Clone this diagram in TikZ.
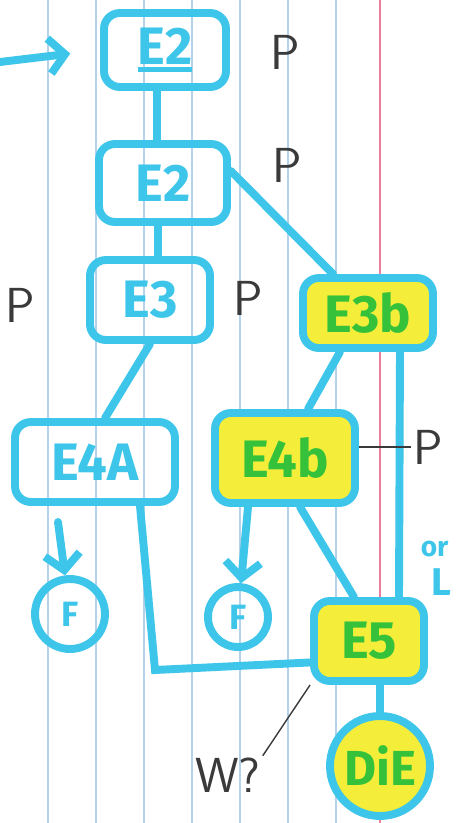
\documentclass[tikz,border=0pt]{standalone}
\usepackage{fontspec}
\newfontfamily\hand{Fira Sans}
\usetikzlibrary{calc}
\usetikzlibrary{arrows.meta}

\definecolor{ink}{HTML}{3EC6EA}
\definecolor{hilite}{HTML}{F4EE3A}
\definecolor{leaf}{HTML}{35C23A}
\definecolor{rule}{HTML}{B4D2EC}
\definecolor{margin}{HTML}{EE7E9E}
\definecolor{pencil}{HTML}{3A3A3A}

\newcommand\inkline[1]{\setbox0\hbox{#1}\rlap{\raisebox{-4pt}{\rule{\wd0}{3pt}}}\box0}

\tikzset{
  box/.style={draw=ink, line width=4.5pt, rounded corners=9pt, text=ink,
    font=\hand\bfseries\fontsize{30}{30}\selectfont, inner sep=0pt},
  hbox/.style={box, fill=hilite, text=leaf},
  ring/.style={draw=ink, circle, line width=4.5pt, text=ink,
    font=\hand\bfseries\fontsize{20}{20}\selectfont, inner sep=0pt},
  link/.style={ink, line width=4.5pt, line cap=round},
  tip/.style={-{Straight Barb[length=9pt,width=20pt,line width=4.5pt]}},
  pen/.style={pencil, line width=0.8pt},
  note/.style={text=pencil, font=\sffamily\fontsize{28}{28}\selectfont, inner sep=1pt}
}

\begin{document}
\begin{tikzpicture}[x=0.02cm,y=-0.02cm]
\useasboundingbox[fill=white] (0,0) rectangle (465,823);
% paper
\foreach \x in {48,96,...,336}
  \draw[rule,line width=0.6pt] (\x,0) -- (\x,823);
\draw[margin,line width=0.8pt] (380,0) -- (380,823);

% states
\node[box, minimum width=2.44cm, minimum height=1.48cm] (e2a) at (165,50) {\inkline{E2}};
\node[box, minimum width=2.56cm, minimum height=1.56cm] (e2b) at (163,183) {E2};
\node[box, minimum width=2.4cm, minimum height=1.6cm] (e3) at (150,300) {E3};
\node[hbox, minimum width=2.6cm, minimum height=1.4cm] (e3b) at (368,313) {E3b};
\node[box, minimum width=3.2cm, minimum height=1.6cm] (e4a) at (95,462) {E4A};
\node[hbox, minimum width=2.8cm, minimum height=1.8cm] (e4b) at (285,458) {E4b};
\node[hbox, minimum width=2.2cm, minimum height=1.6cm] (e5) at (369,641) {E5};
\node[ring, minimum size=1.4cm] (fa) at (70,614) {F};
\node[ring, minimum size=1.2cm] (fb) at (238,617) {F};
\node[ring, fill=hilite, text=leaf, minimum size=2.0cm,
  font=\hand\bfseries\fontsize{28}{28}\selectfont] (die) at (380,766) {DiE};

% pencil notes
\node[note] (pa) at (285,52) {P};
\node[note] (pb) at (287,165) {P};
\node[note] (pc) at (20,305) {P};
\node[note] (pd) at (248,298) {P};
\node[note] (pe) at (428,447) {P};
\node[note] (wq) at (228,775) {W?};
\node[text=ink, font=\hand\bfseries\fontsize{16}{22}\selectfont, align=left] (orl) at (436,568) {or\\\hspace{6pt}\fontsize{22}{22}\selectfont L};

% connectors
\coordinate (entry) at (0,62);
\draw[link,tip,shorten >=0.6cm] (entry) -- (e2a.west);
\draw[link] ($(e2a.south)+(-8,0)$) -- ($(e2b.north)+(-6,0)$);
\draw[link] ($(e2b.south)+(-5,0)$) -- ($(e3.north)+(8,0)$);
\draw[link] (e2b.10) -- ($(e3b.north)+(-35,0)$);
\draw[link] (e3.south) -- ($(e4a.north)+(10,0)$);
\draw[link] ($(e3b.south)+(-28,0)$) -- ($(e4b.north)+(23,0)$);
\draw[link] ($(e3b.south)+(32,0)$) -- ($(e5.north)+(30,0)$);
\draw[link] ($(e4b.south)+(15,0)$) -- ($(e5.north)+(-15,0)$);
\coordinate (bend) at (155,670);
\draw[link] ($(e4a.south)+(45,0)$) -- (bend) -- (e5.200);
\draw[link] (die.north |- e5.south) -- (die.north);
\coordinate (fa in) at (58,522);
\draw[link,tip] (fa in) -- (fa);
\draw[link,tip] ($(e4b.south)+(-37,0)$) -- (fb);

% pencil lines
\draw[pen] (pe -| e4b.east) -- (pe.west);
\draw[pen] (e5.south west) -- (wq.north east);
\end{tikzpicture}
\end{document}
